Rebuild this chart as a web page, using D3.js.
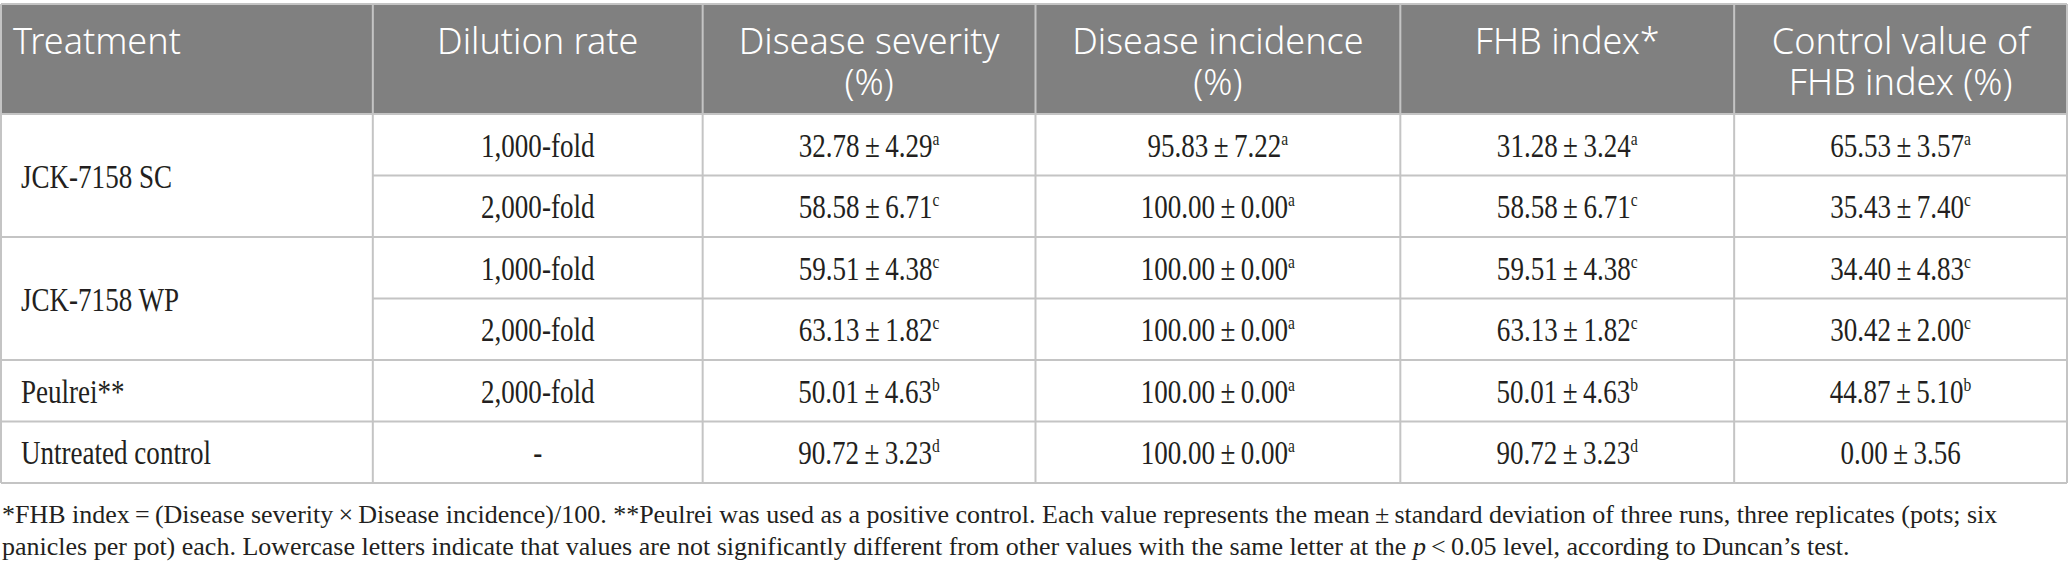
<!DOCTYPE html>
<html>
<head>
<meta charset="utf-8">
<script src="https://cdn.jsdelivr.net/npm/d3@7"></script>
<style>
  html, body { margin: 0; padding: 0; background: #fff; }
  svg { display: block; }
</style>
</head>
<body>
<script>
// table content
var headers = [["Treatment"], ["Dilution rate"], ["Disease severity", "(%)"],
  ["Disease incidence", "(%)"], ["FHB index*"], ["Control value of", "FHB index (%)"]];
var treatments = ["JCK-7158 SC", "JCK-7158 WP", "Peulrei**", "Untreated control"];
var treatmentRows = [[0, 1], [2, 3], [4, 4], [5, 5]];
var dilution = ["1,000-fold", "2,000-fold", "1,000-fold", "2,000-fold", "2,000-fold", "-"];
var severity = [32.78, 58.58, 59.51, 63.13, 50.01, 90.72];
var severitySD = [4.29, 6.71, 4.38, 1.82, 4.63, 3.23];
var severityLetter = ["a", "c", "c", "c", "b", "d"];
var incidence = [95.83, 100.00, 100.00, 100.00, 100.00, 100.00];
var incidenceSD = [7.22, 0.00, 0.00, 0.00, 0.00, 0.00];
var incidenceLetter = ["a", "a", "a", "a", "a", "a"];
var fhb = [31.28, 58.58, 59.51, 63.13, 50.01, 90.72];
var fhbSD = [3.24, 6.71, 4.38, 1.82, 4.63, 3.23];
var fhbLetter = ["a", "c", "c", "c", "b", "d"];
var control = [65.53, 35.43, 34.40, 30.42, 44.87, 0.00];
var controlSD = [3.57, 7.40, 4.83, 2.00, 5.10, 3.56];
var controlLetter = ["a", "c", "c", "c", "b", ""];
var footnote1 = "*FHB index\u2009=\u2009(Disease severity\u2009\u00d7\u2009Disease incidence)/100. **Peulrei was used as a positive control. Each value represents the mean\u2009\u00b1\u2009standard deviation of three runs, three replicates (pots; six";
var footnote2a = "panicles per pot) each. Lowercase letters indicate that values are not significantly different from other values with the same letter at the ";
var footnote2b = " level, according to Duncan\u2019s test.";

var width = 2068, height = 573;
var lineColor = "#c4c4c4";
var serif = "'Liberation Serif', 'DejaVu Serif', serif";
var sans = "'Noto Sans', 'Open Sans', sans-serif";

var svg = d3.select("body").append("svg")
    .attr("width", width)
    .attr("height", height);

// column edges (relative widths)
var colW = [372, 330, 333, 365, 334, 333];
var colEdges = [0];
colW.forEach(function(w, i) { colEdges.push(colEdges[i] + w); });
var x = d3.scaleLinear().domain([0, colEdges[colEdges.length - 1]]).range([1, width - 1]);

var tableTop = 4, headBottom = 114, tableBottom = 483;
var rows = d3.range(dilution.length);
var y = d3.scaleBand().domain(rows).range([headBottom, tableBottom]);

// header
svg.append("rect")
  .attr("x", x(0)).attr("y", tableTop)
  .attr("width", x(colEdges[6]) - x(0)).attr("height", headBottom - tableTop)
  .attr("fill", "#808080");

headers.forEach(function(lines, i) {
  var t = svg.append("text")
    .attr("font-family", sans)
    .attr("font-size", "36px")
    .attr("font-weight", 300)
    .attr("fill", "#fff")
    .attr("text-anchor", i == 0 ? "start" : "middle");
  lines.forEach(function(l, j) {
    t.append("tspan")
      .attr("x", i == 0 ? x(0) + 12 : (x(colEdges[i]) + x(colEdges[i + 1])) / 2)
      .attr("y", 54 + j * 41)
      .text(l);
  });
});

// grid lines
var grid = svg.append("g").attr("stroke", lineColor).attr("stroke-width", 2);
grid.append("line").attr("x1", x(0)).attr("x2", x(colEdges[6])).attr("y1", tableTop).attr("y2", tableTop);
colEdges.forEach(function(c, i) {
  grid.append("line")
    .attr("x1", x(c)).attr("x2", x(c))
    .attr("y1", tableTop).attr("y2", tableBottom);
});
// horizontal lines: full width at group boundaries, partial inside groups
rows.forEach(function(r) {
  var inGroup = treatmentRows.some(function(g) { return r > g[0] && r <= g[1]; });
  grid.append("line")
    .attr("x1", inGroup ? x(colEdges[1]) : x(0)).attr("x2", x(colEdges[6]))
    .attr("y1", y(r)).attr("y2", y(r));
});
grid.append("line").attr("x1", x(0)).attr("x2", x(colEdges[6]))
  .attr("y1", tableBottom).attr("y2", tableBottom);

// body text helper
function cellText(cx, cy, anchor, main, sup) {
  var g = svg.append("g").attr("transform", "translate(" + cx + "," + cy + ")");
  var t = g.append("text")
    .attr("transform", "scale(0.82,1)")
    .attr("font-family", serif)
    .attr("font-size", "33px")
    .attr("fill", "#231f20")
    .attr("text-anchor", anchor)
    .text(main);
  if (sup) {
    t.append("tspan")
      .attr("font-size", "19px")
      .attr("dy", -12)
      .text(sup);
  }
}

var pm = "\u2009\u00b1\u2009";
var f = d3.format(".2f");
var rowMid = function(r) { return y(r) + y.bandwidth() / 2 + 12; };

treatments.forEach(function(t, i) {
  var g = treatmentRows[i];
  var cy = (y(g[0]) + y(g[1]) + y.bandwidth()) / 2 + 12;
  cellText(x(0) + 20, cy, "start", t);
});

var valueCols = [
  [severity, severitySD, severityLetter],
  [incidence, incidenceSD, incidenceLetter],
  [fhb, fhbSD, fhbLetter],
  [control, controlSD, controlLetter]
];

rows.forEach(function(r) {
  cellText((x(colEdges[1]) + x(colEdges[2])) / 2, rowMid(r), "middle", dilution[r]);
  valueCols.forEach(function(vc, k) {
    var cx = (x(colEdges[k + 2]) + x(colEdges[k + 3])) / 2;
    cellText(cx, rowMid(r), "middle", f(vc[0][r]) + pm + f(vc[1][r]), vc[2][r]);
  });
});

// footnote
var fn = svg.append("g")
  .attr("font-family", serif)
  .attr("font-size", "26px")
  .attr("fill", "#231f20");
fn.append("text").attr("x", 2).attr("y", 523).text(footnote1);
var l2 = fn.append("text").attr("x", 2).attr("y", 555);
l2.append("tspan").text(footnote2a);
l2.append("tspan").attr("font-style", "italic").text("p");
l2.append("tspan").text("\u2009<\u20090.05");
l2.append("tspan").text(footnote2b);
</script>
</body>
</html>
